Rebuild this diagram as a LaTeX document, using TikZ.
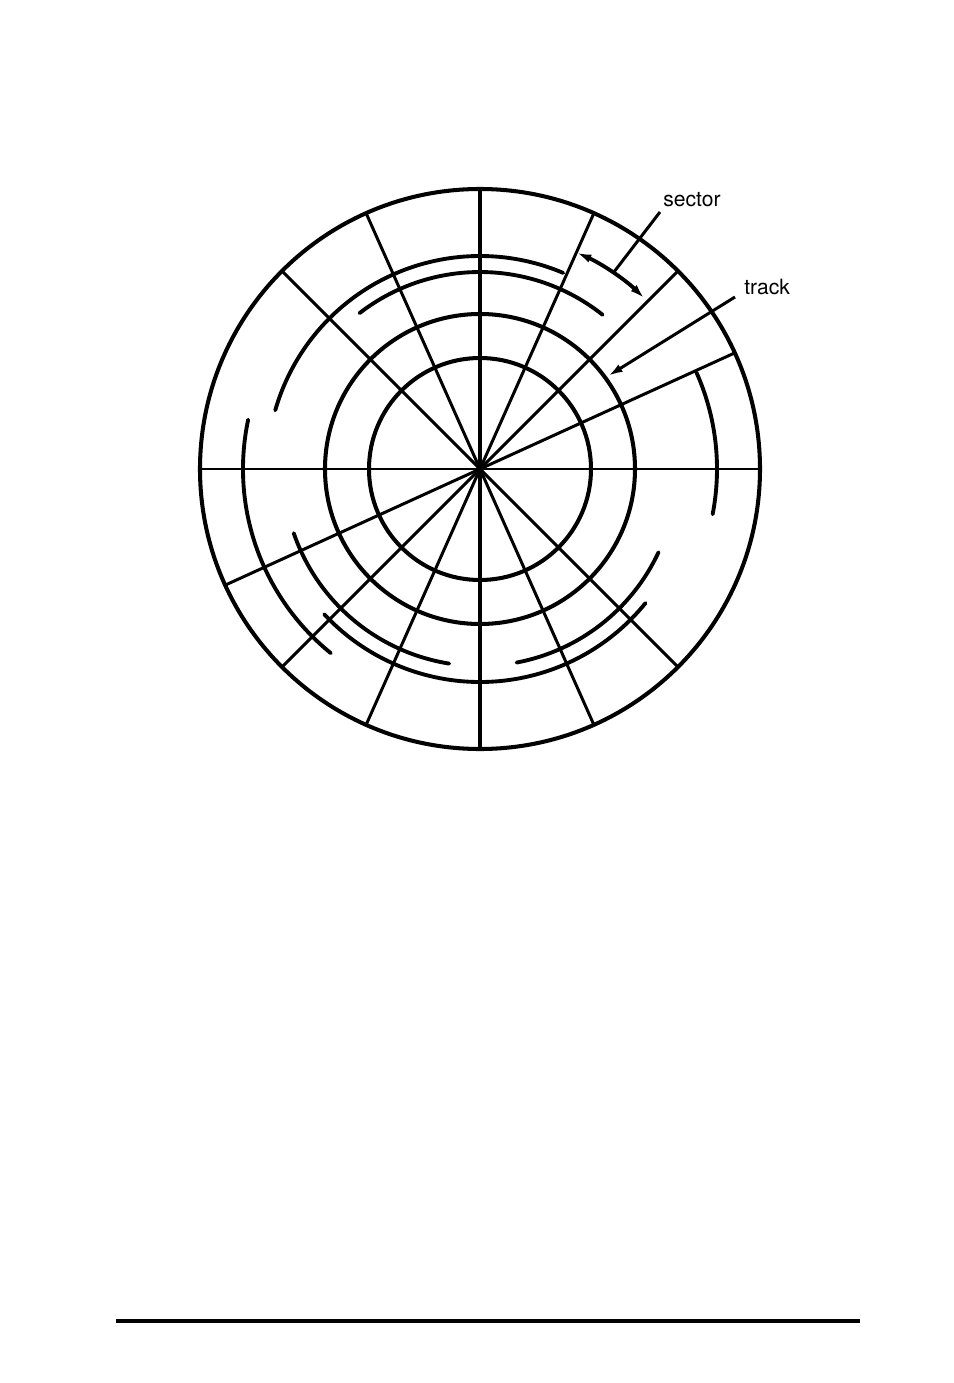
\documentclass[tikz,border=0pt]{standalone}
\usepackage{fontspec}
\setmainfont{TeX Gyre Heros}
\usetikzlibrary{arrows.meta}
\begin{document}
\begin{tikzpicture}[x=0.2mm,y=0.2mm]
	% radii of the disk and of its tracks
	\def\rout{280}
	\def\rone{111}
	\def\rtwo{155}
	\def\rthree{197}
	\def\rfour{213}
	\def\rfive{237}
	% style definition
	\tikzstyle{rim} = [line width=2.3pt];
	\tikzstyle{spoke} = [line width=1.7pt];
	\tikzstyle{trk} = [line width=2.2pt, line cap=round];
	\tikzstyle{leader} = [line width=1.7pt];
	\tikzstyle{tag} = [inner sep=0pt, anchor=south west, font=\fontsize{12}{14}\selectfont];
	\tikzstyle{tip} = [{Latex[length=3mm,width=1.7mm]}];
	\useasboundingbox (-480,469) rectangle (474,-914);
	% sector lines
	\foreach \ang in {0,24.5,45,66,114,135} {
		\draw[spoke] (\ang:\rout) -- (\ang+180:\rout);
	}
	\draw[rim] (90:\rout) -- (270:\rout);
	\fill (0,0) circle[radius=4];
	% rim and closed tracks
	\draw[rim] (0,0) circle[radius=\rout];
	\draw[rim] (0,0) circle[radius=\rone];
	\draw[rim] (0,0) circle[radius=\rtwo];
	% broken tracks: radius / start / end
	\foreach \ra/\sa/\ea in {\rfive/-11/24, \rfive/168/231, \rfour/67/164, \rfour/223/321,
		\rthree/51.5/127.7, \rthree/199/261, \rthree/280.7/335} {
		\draw[trk] (\sa:\ra) arc[start angle=\sa, end angle=\ea, radius=\ra];
	}
	% sector arrow
	\draw[trk, line cap=butt, {Latex[length=3mm,width=1.7mm]}-{Latex[length=3mm,width=1.7mm]}]
		(66:\rfive) arc[start angle=66, end angle=46, radius=\rfive];
	% labels
	\node[tag] (sector) at (183,262) {sector};
	\node[tag] (track) at (264,174) {track};
	\coordinate (sectorpt) at (55.8:\rfive);
	\coordinate (trackpt) at (36:158);
	\draw[leader] ([shift={(-3,-5)}]sector.south west) -- (sectorpt);
	\draw[leader, -{Latex[length=3mm,width=1.7mm]}] ([shift={(-9,-2)}]track.south west) -- (trackpt);
	% rule at the foot of the page
	\draw[line width=2.2pt] (-364,-852) -- (380,-852);
\end{tikzpicture}
\end{document}
